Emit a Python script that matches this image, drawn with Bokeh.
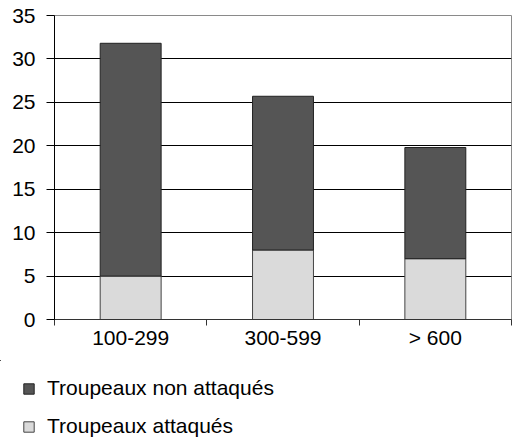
from bokeh.plotting import figure
from bokeh.layouts import column
from bokeh.models import (Range1d, LinearAxis, FixedTicker,
                          Legend, LegendItem, Grid, ColumnDataSource)
from bokeh.embed import file_html
from bokeh.resources import INLINE

categories = ["100-299", "300-599", "> 600"]
attacked = [5, 8, 7]
not_attacked = [26.8, 17.7, 12.8]
y_ticks = [0, 5, 10, 15, 20, 25, 30, 35]
grid_ticks = [5, 10, 15, 20, 25, 30]
series_labels = ["Troupeaux non attaqués", "Troupeaux attaqués"]

FONT = "Liberation Sans"
FS = "21px"
DARK = "#555555"
LIGHT = "#dadada"
EDGE_DARK = "#222222"
EDGE_LIGHT = "#444444"

n = len(categories)
centers = [i + 0.5 for i in range(n)]
source = ColumnDataSource(dict(x=centers, attacked=attacked, not_attacked=not_attacked))

p = figure(width=512, height=360, x_range=Range1d(0, n), y_range=Range1d(0, 35),
           output_backend="svg", toolbar_location=None,
           x_axis_location=None, y_axis_location=None,
           min_border_left=54, min_border_top=15, min_border_right=1, min_border_bottom=41)
p.center = [g for g in p.center if not isinstance(g, Grid)]
p.outline_line_color = "#8a8a8a"
p.outline_line_width = 1
p.background_fill_color = "white"
p.border_fill_color = "white"

p.add_layout(Grid(dimension=1, ticker=FixedTicker(ticks=grid_ticks),
                  grid_line_color="black", grid_line_width=1))

rs = p.vbar_stack(["attacked", "not_attacked"], x="x", width=0.4, source=source,
                  fill_color=[LIGHT, DARK], line_color=[EDGE_LIGHT, EDGE_DARK], line_width=1)

yaxis = LinearAxis(ticker=FixedTicker(ticks=y_ticks), major_tick_out=8, major_tick_in=0,
                   minor_tick_line_color=None, major_label_standoff=11,
                   axis_line_color="black", major_tick_line_color="black",
                   major_label_text_font=FONT, major_label_text_font_size=FS,
                   major_label_text_color="black")
p.add_layout(yaxis, "left")

tick_axis = LinearAxis(ticker=FixedTicker(ticks=list(range(n + 1))),
                       major_tick_out=6, major_tick_in=0, minor_tick_line_color=None,
                       major_label_text_font_size="0px", major_label_standoff=0,
                       axis_line_color="#333333", major_tick_line_color="#333333")
p.add_layout(tick_axis, "below")

cat_axis = LinearAxis(ticker=FixedTicker(ticks=centers),
                      major_label_overrides={c: lab for c, lab in zip(centers, categories)},
                      axis_line_color=None, major_tick_line_color=None, minor_tick_line_color=None,
                      major_tick_out=0, major_tick_in=0, major_label_standoff=0,
                      major_label_text_font=FONT, major_label_text_font_size=FS,
                      major_label_text_color="black")
p.add_layout(cat_axis, "below")

# legend panel: same stacked series, drawn far out of its view so only the legend swatches show
lp = figure(width=512, height=80, x_range=Range1d(100, 100 + n), y_range=Range1d(-200, -199),
            output_backend="svg", toolbar_location=None,
            x_axis_location=None, y_axis_location=None,
            min_border_left=0, min_border_right=0, min_border_top=0, min_border_bottom=0)
lp.frame_align = False
p.frame_align = False
lp.center = [g for g in lp.center if not isinstance(g, Grid)]
lp.outline_line_color = None
lp.background_fill_color = "white"
lp.border_fill_color = "white"
lrs = lp.vbar_stack(["attacked", "not_attacked"], x="x", width=0.4, source=source,
                    fill_color=[LIGHT, DARK], line_color=[EDGE_LIGHT, EDGE_DARK], line_width=1)

legend = Legend(items=[LegendItem(label=series_labels[0], renderers=[lrs[1]]),
                       LegendItem(label=series_labels[1], renderers=[lrs[0]])],
                location=(22, 2), padding=0, margin=0, spacing=14,
                glyph_width=13, glyph_height=13, label_height=20, label_standoff=12,
                label_text_font=FONT, label_text_font_size=FS, label_text_color="black",
                border_line_color=None, background_fill_alpha=0)
lp.add_layout(legend, "center")

layout = column(p, lp, spacing=0)
open("out.html", "w").write(file_html(layout, INLINE))
